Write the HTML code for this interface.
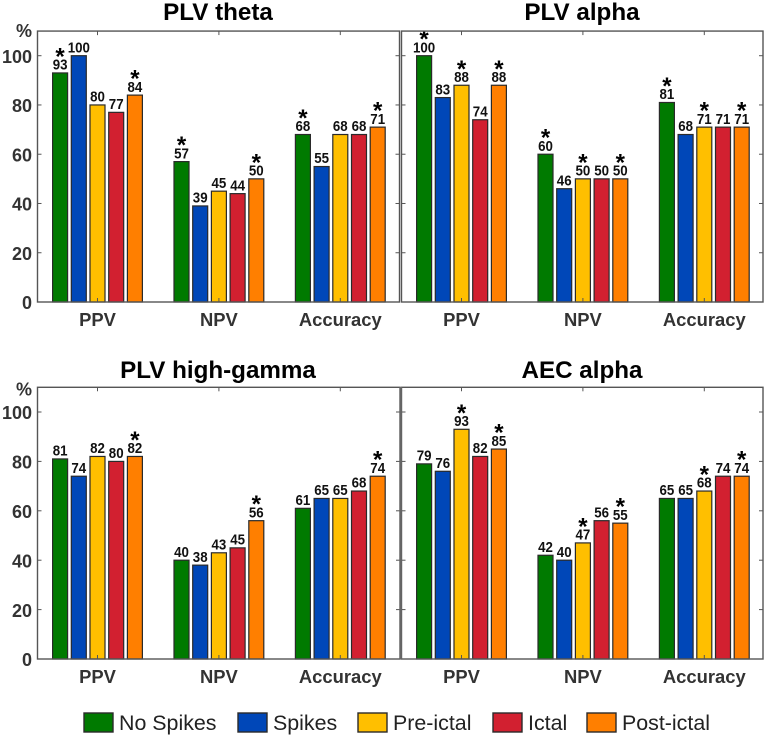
<!DOCTYPE html>
<html>
<head>
<meta charset="utf-8">
<title>PLV and AEC performance chart</title>
<style>
html,body{margin:0;padding:0;background:#fff;}
svg{display:block;font-family:"Liberation Sans",sans-serif;}
</style>
</head>
<body>
<svg id="chart" xmlns="http://www.w3.org/2000/svg" width="767" height="738" viewBox="0 0 767 738"></svg>
<script>
const categories = ['PPV', 'NPV', 'Accuracy'];
const seriesNames = ['No Spikes', 'Spikes', 'Pre-ictal', 'Ictal', 'Post-ictal'];
const seriesColors = ['#007a00', '#0047b8', '#ffbf00', '#d22030', '#ff7f00'];
const yTicks = [0, 20, 40, 60, 80, 100];
const yMax = 110;

const plvThetaValues = [[93, 100, 80, 77, 84], [57, 39, 45, 44, 50], [68, 55, 68, 68, 71]];
const plvThetaStars = [[1, 0, 0, 0, 1], [1, 0, 0, 0, 1], [1, 0, 0, 0, 1]];
const plvAlphaValues = [[100, 83, 88, 74, 88], [60, 46, 50, 50, 50], [81, 68, 71, 71, 71]];
const plvAlphaStars = [[1, 0, 1, 0, 1], [1, 0, 1, 0, 1], [1, 0, 1, 0, 1]];
const plvHighGammaValues = [[81, 74, 82, 80, 82], [40, 38, 43, 45, 56], [61, 65, 65, 68, 74]];
const plvHighGammaStars = [[0, 0, 0, 0, 1], [0, 0, 0, 0, 1], [0, 0, 0, 0, 1]];
const aecAlphaValues = [[79, 76, 93, 82, 85], [42, 40, 47, 56, 55], [65, 65, 68, 74, 74]];
const aecAlphaStars = [[0, 0, 1, 0, 1], [0, 0, 1, 0, 1], [0, 0, 1, 0, 1]];

const svg = document.getElementById('chart');
const NS = 'http://www.w3.org/2000/svg';

function mk(tag, attrs, parent, text) {
  const el = document.createElementNS(NS, tag);
  for (const k in attrs) el.setAttribute(k, attrs[k]);
  if (text !== undefined) el.textContent = text;
  (parent || svg).appendChild(el);
  return el;
}

function drawPanel(cfg) {
  const g = mk('g', {}, svg);
  
  

  const yScale = v => cfg.bottom - v * (cfg.bottom - cfg.y100) / 100;
  const xGroup = i => cfg.left + 60 + i * 121.4;
  const xBar = (i, s) => xGroup(i) + (s - 2) * 18.7;
  const top = yScale(yMax);

  const title = mk('text', {x: cfg.titleX, y: cfg.titleY, 'text-anchor': 'middle', 'font-size': 24.2, 'font-weight': 'bold', fill: '#000'}, g, cfg.title);
  
  

  yTicks.forEach(t => {
    const y = yScale(t);
    if (t > 0) {
      const a = mk('line', {x1: cfg.left, x2: cfg.left + 4, y1: y, y2: y, stroke: '#555', 'stroke-width': 1}, g);
      
      
      const b = mk('line', {x1: cfg.right - 4, x2: cfg.right, y1: y, y2: y, stroke: '#555', 'stroke-width': 1}, g);
      
      
    }
    if (cfg.showY) {
      const lab = mk('text', {x: 32, y: y + 7.2, 'text-anchor': 'end', 'font-size': 18, 'font-weight': 'bold', fill: '#333'}, g, String(t));
      
      
    }
  });

  if (cfg.showY) {
    const pct = mk('text', {x: 16, y: top + cfg.pctDy, 'font-size': 18, 'font-weight': 'bold', fill: '#333'}, g, '%');
    
    
  }

  categories.forEach((c, i) => {
    const xc = xGroup(i);
    const t1 = mk('line', {x1: xc, x2: xc, y1: top, y2: top + 4, stroke: '#555', 'stroke-width': 1}, g);
    
    
    const lab = mk('text', {x: xc, y: cfg.bottom + 24, 'text-anchor': 'middle', 'font-size': 18.4, 'font-weight': 'bold', fill: '#333'}, g, c);
    
    

    seriesNames.forEach((n, s) => {
      const v = cfg.values[i][s];
      const yv = yScale(v);
      const bar = mk('rect', {x: xBar(i, s) - 7.5, y: yv, width: 15, height: cfg.bottom - yv, fill: seriesColors[s], stroke: '#2a2a2a', 'stroke-width': 1.2}, g);
      
      
      const label = String(v);
      const val = mk('text', {x: xBar(i, s), y: yv - 3.3, 'text-anchor': 'middle', 'font-size': 14.5, 'font-weight': 'bold', fill: '#111', textLength: label.length * 7.4, lengthAdjust: 'spacingAndGlyphs'}, g, label);
      
      
      if (cfg.stars[i][s]) {
        const st = mk('text', {x: xBar(i, s), y: yv - 8.5, 'text-anchor': 'middle', 'font-size': 24, 'font-weight': 'bold', fill: '#000'}, g, '*');
        
        
      }
    });

    const t2 = mk('line', {x1: xc, x2: xc, y1: cfg.bottom - 4, y2: cfg.bottom, stroke: '#555', 'stroke-width': 1}, g);
    
    
  });

  const frame = mk('rect', {x: cfg.left, y: top, width: cfg.right - cfg.left, height: cfg.bottom - top, fill: 'none', stroke: '#555', 'stroke-width': 1.4}, g);
  
  
}

drawPanel({slug: 'plv-theta', title: 'PLV theta', titleX: 218, titleY: 20, left: 37.5, right: 399.5, y100: 55.7, bottom: 302, showY: true, pctDy: 5.7, values: plvThetaValues, stars: plvThetaStars});
drawPanel({slug: 'plv-alpha', title: 'PLV alpha', titleX: 582, titleY: 20, left: 401.5, right: 763, y100: 55.7, bottom: 302, showY: false, pctDy: 5.7, values: plvAlphaValues, stars: plvAlphaStars});
drawPanel({slug: 'plv-high-gamma', title: 'PLV high-gamma', titleX: 218, titleY: 378, left: 37.5, right: 400, y100: 412, bottom: 659, showY: true, pctDy: 8, values: plvHighGammaValues, stars: plvHighGammaStars});
drawPanel({slug: 'aec-alpha', title: 'AEC alpha', titleX: 582, titleY: 378, left: 401.5, right: 763, y100: 412, bottom: 659, showY: false, pctDy: 8, values: aecAlphaValues, stars: aecAlphaStars});

const divider = mk('line', {x1: 400.7, x2: 400.7, y1: 387, y2: 659, stroke: '#666', 'stroke-width': 2.5});



const legendSwatchX = [84, 238, 358, 493, 587];
const legend = mk('g', {}, svg);


seriesNames.forEach((n, s) => {
  const sw = mk('rect', {x: legendSwatchX[s], y: 713, width: 29, height: 19, fill: seriesColors[s], stroke: '#2a2a2a', 'stroke-width': 1.4}, legend);
  
  
  const tx = mk('text', {x: legendSwatchX[s] + 35, y: 730, 'font-size': 21.4, fill: '#222'}, legend, n);
  
  
});
</script>
</body>
</html>
